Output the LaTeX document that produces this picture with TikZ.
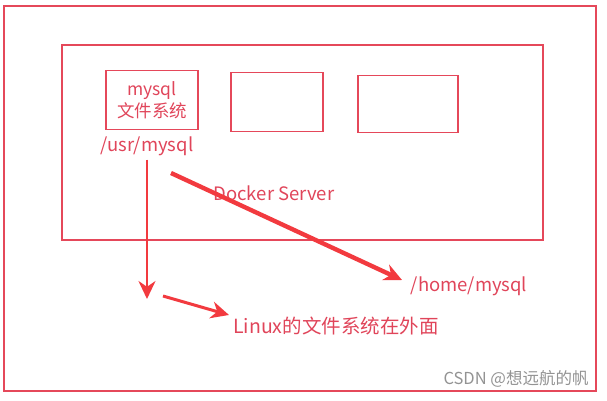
\documentclass[tikz,border=0pt]{standalone}
\usepackage{fontspec}
\setmainfont{Noto Sans CJK SC}
\usetikzlibrary{arrows.meta, positioning}
\definecolor{boxred}{HTML}{E5485A}
\definecolor{txtred}{HTML}{E0455A}
\definecolor{arrred}{HTML}{F23A3F}
\begin{document}
\begin{tikzpicture}[x=1pt, y=-1pt,
        frame/.style={draw=boxred, line width=1.6pt},
        box/.style={draw=boxred, line width=1.8pt, minimum width=92pt,
                    minimum height=59pt, align=center, inner sep=0pt},
        lbl/.style={text=txtred, font=\fontsize{18.5}{21}\selectfont, inner sep=0pt},
        arr/.style={arrred, line width=3.2pt, -{Stealth[length=18pt, width=17pt]}}
    ]
        \useasboundingbox (0,0) rectangle (607,400);
        \draw[frame] (4,6) rectangle (596,391);
        \draw[frame] (62,45) rectangle (543,240);

        \node[box, text=txtred, font=\fontsize{17.5}{22}\selectfont] (mysqlbox) at (152,100)
            {mysql\\文件系统};
        \node[box] (midbox) at (277,102) {};
        \node[box, minimum width=100pt, minimum height=57pt] (rightbox) at (408,104) {};

        \node[lbl] (usr) at (147,146) {/usr/mysql};
        \node[lbl] (server) at (274,193) {Docker Server};
        \node[lbl] (home) at (469,286) {/home/mysql};
        \node[lbl, anchor=west, font=\fontsize{19.5}{22}\selectfont] (linux) at (233,326)
            {Linux的文件系统在外面};
        \node[text=gray!85, font=\fontsize{16.5}{18}\selectfont, inner sep=0pt] (mark) at (516,379)
            {CSDN @想远航的帆};

        \coordinate (downend) at (147,299);
        \coordinate (diagstart) at (171,173);
        \coordinate (diagend) at (402,280);
        \coordinate (smallstart) at (163,296);
        \coordinate (smallend) at (229,315);

        \draw[arr, line width=2.8pt] (usr.south -| downend) ++(0,4) -- (downend);
        \draw[arr, line width=4.4pt] (diagstart) -- (diagend);
        \draw[arr, line width=3pt] (smallstart) -- (smallend);
    \end{tikzpicture}
\end{document}
